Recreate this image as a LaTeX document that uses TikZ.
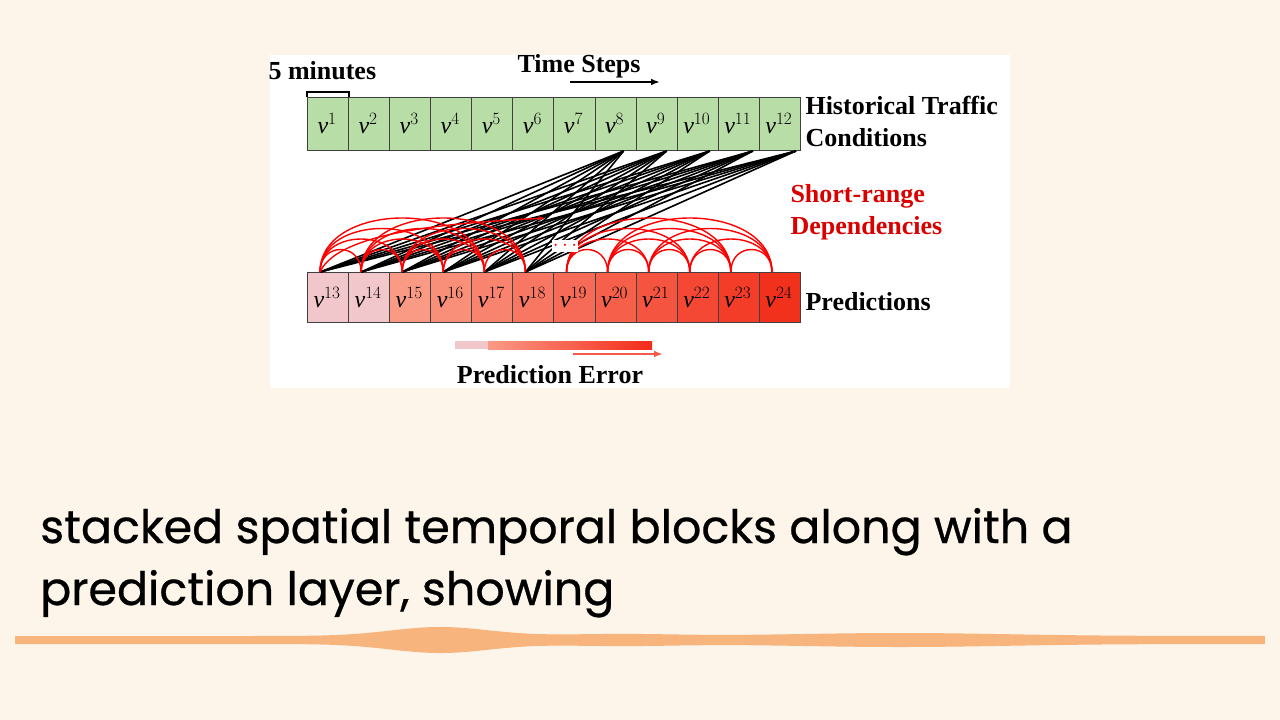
\documentclass[tikz,border=0pt]{standalone}
\usepackage{fontspec}
\setmainfont{Liberation Serif}
\newfontfamily\capfont[FakeBold=0.6]{Poppins}
\usetikzlibrary{arrows.meta}
\definecolor{bg}{HTML}{FDF5EA}
\definecolor{gcell}{HTML}{B9DDA6}
\definecolor{pk}{HTML}{F2C7CC}
\definecolor{rA}{HTML}{FA9A85}
\definecolor{rB}{HTML}{F2301C}
\definecolor{wave}{HTML}{F6A460}
\tikzset{
  cell/.style={draw=black!75, line width=1pt, minimum width=41.08pt, minimum height=#1, inner sep=0pt, anchor=north west},
  lbl/.style={font=\bfseries\fontsize{26}{32}\selectfont, anchor=west, align=left},
  dep/.style={red, line width=1.4pt},
  conn/.style={black, line width=1.6pt}
}
\newcommand{\vv}[1]{\fontsize{24}{24}\selectfont$\mathit{v}^{#1}$}
\begin{document}
\begin{tikzpicture}[x=1pt,y=-1pt]
\useasboundingbox (0,0) rectangle (1280,720);
\fill[bg] (0,0) rectangle (1280,720);
\fill[white] (270,55) rectangle (1010,388);
% top row
\foreach \i in {1,...,12}{
  \node[cell=53pt, fill=gcell] (t\i) at ({307+(\i-1)*41.08},97) {};
  \node (tv\i) at ([xshift=-1pt]t\i.center) {\vv{\i}};
}
% bottom row
\foreach \i in {13,...,24}{
  \pgfmathtruncatemacro{\j}{\i-12}
  \ifnum\i<15 \colorlet{cc}{pk}\else\pgfmathtruncatemacro{\kk}{100-(\i-15)*11}\colorlet{cc}{rA!\kk!rB}\fi
  \node[cell=50pt, fill=cc] (b\i) at ({307+(\j-1)*41.08},272) {};
  \node (bv\i) at ([xshift=-1pt]b\i.center) {\vv{\i}};
}
% 5 minutes bracket
\draw[line width=1.2pt] (t1.north west) -- ++(0,-5) -| (t1.north east);
\node[lbl] (fm) at (265,71) {5 minutes};
\node[lbl] (ts) at (514,66) {Time Steps};
\coordinate (tsa) at (570,82);
\coordinate (tsb) at (660,82);
\draw[line width=2pt,-{Latex[length=9pt]}] (tsa) -- (tsb);
\node[lbl] (htc) at (802,121) {Historical Traffic\\Conditions};
\node[lbl, red!85!black] (srd) at (787,212) {Short-range\\Dependencies};
\node[lbl] (pred) at (802,302) {Predictions};
% black connectors
\foreach \s [count=\n] in {8,...,12}{
  \foreach \d in {13,...,18}{
    \draw[conn] ([xshift={(6+2*\n)*1pt}]t\s.south) -- ([xshift=-8pt]b\d.north);
  }
}
% red arcs
\foreach \a in {13,...,17}{
  \foreach \sp in {1,...,4}{
    \pgfmathtruncatemacro{\bb}{\a+\sp}
    \ifnum\bb<19
      \draw[dep] ([xshift=-8pt]b\a.north) .. controls +(0,{-16-14*\sp}) and +(0,{-16-14*\sp}) .. ([xshift=-8pt]b\bb.north);
    \fi
  }
}
\foreach \a in {19,...,23}{
  \foreach \sp in {1,...,4}{
    \pgfmathtruncatemacro{\bb}{\a+\sp}
    \ifnum\bb<25
      \draw[dep] ([xshift=-8pt]b\a.north) .. controls +(0,{-16-14*\sp}) and +(0,{-16-14*\sp}) .. ([xshift=-8pt]b\bb.north);
    \fi
  }
}
\coordinate (rt) at (545,218);
\draw[dep,-{Latex[length=6pt]}] ([xshift=-8pt]b13.north) .. controls +(20,-45) and (480,222) .. (rt);
\node[red, font=\bfseries\fontsize{22}{22}\selectfont, fill=white, inner sep=1pt] (dots) at (565,246) {$\cdots$};
% prediction error bar
\fill[pk] (455,341) rectangle (488,349);
\shade[left color=rA, right color=rB!90!red] (488,341) rectangle (652,349);
\coordinate (pea) at (573,354);
\coordinate (peb) at (663,354);
\draw[rB!80!white, line width=2.5pt,-{Latex[length=9pt]}] (pea) -- (peb);
\node[lbl, anchor=center] (pe) at (550,375) {Prediction Error};
% caption
\node[font=\capfont\fontsize{46}{62}\selectfont, anchor=base west, align=left, inner sep=0pt] (cap) at (40,543)
 {stacked spatial temporal blocks along with a};
\node[font=\capfont\fontsize{46}{62}\selectfont, anchor=base west, align=left, inner sep=0pt] (cap2) at (40,605)
 {prediction layer, showing};
% waveform
\fill[wave!80!bg] plot[domain=15:1265, samples=300] (\x, {640-4-9*exp(-((\x-440)/70)^2)-3*exp(-((\x-900)/150)^2)-2*exp(-((\x-620)/80)^2)})
  -- plot[domain=1265:15, samples=300] (\x, {640+4+9*exp(-((\x-440)/70)^2)+3*exp(-((\x-900)/150)^2)+2*exp(-((\x-620)/80)^2)}) -- cycle;
\end{tikzpicture}
\end{document}
